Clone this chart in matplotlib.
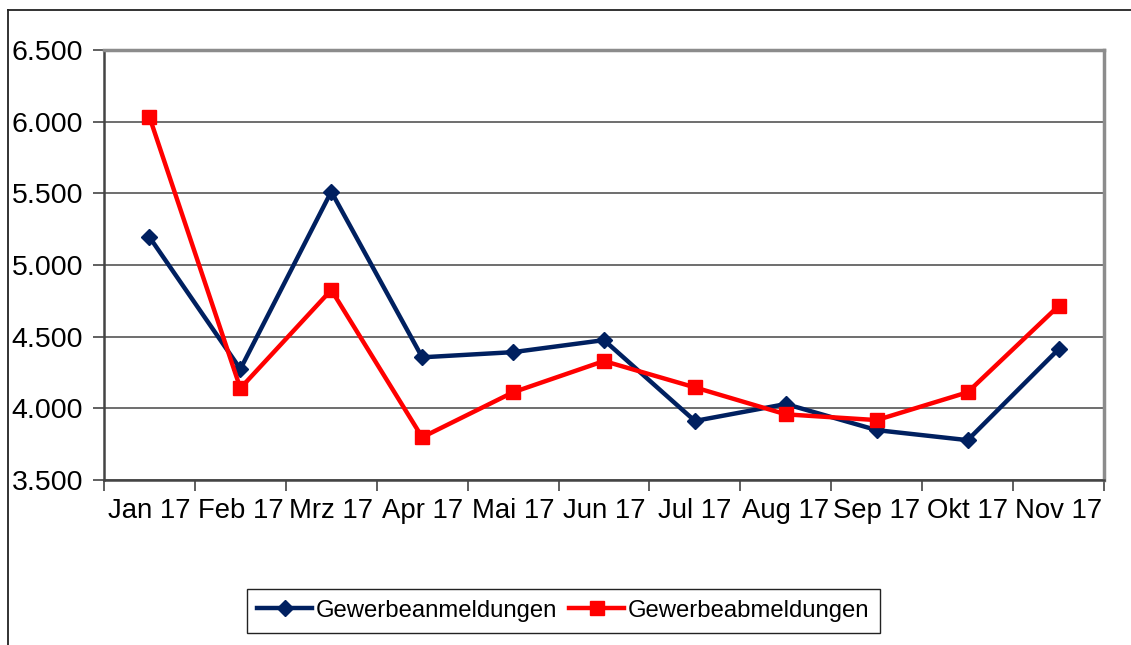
import matplotlib
matplotlib.use("Agg")
import matplotlib.pyplot as plt
from matplotlib.lines import Line2D
from matplotlib.ticker import FuncFormatter

plt.rcParams['font.family'] = ['Liberation Sans', 'DejaVu Sans']

monate = ['Jan 17', 'Feb 17', 'Mrz 17', 'Apr 17', 'Mai 17', 'Jun 17',
          'Jul 17', 'Aug 17', 'Sep 17', 'Okt 17', 'Nov 17']
anmeldungen = [5195, 4274, 5512, 4356, 4392, 4476, 3912, 4030, 3848, 3778, 4412]
abmeldungen = [6033, 4140, 4826, 3798, 4112, 4330, 4146, 3958, 3918, 4112, 4714]

BLAU = '#002060'
ROT = '#ff0000'

fig = plt.figure(figsize=(11.31, 6.45), dpi=100)
ax = fig.add_axes([104/1131, 165/645, 1000/1131, 430/645])

x = list(range(len(monate)))
ax.plot(x, anmeldungen, color=BLAU, lw=3.2, marker='D', ms=8.5,
        mec=BLAU, mfc=BLAU, label='Gewerbeanmeldungen', zorder=3)
ax.plot(x, abmeldungen, color=ROT, lw=3.2, marker='s', ms=10,
        mec=ROT, mfc=ROT, label='Gewerbeabmeldungen', zorder=4)

ax.set_xlim(-0.5, len(monate) - 0.5)
ax.set_ylim(3500, 6500)
ax.set_yticks(range(3500, 6501, 500))
ax.yaxis.set_major_formatter(FuncFormatter(lambda v, p: f'{int(v):,}'.replace(',', '.')))
ax.grid(axis='y', color='#555555', lw=1.2, zorder=1)

ax.set_xticks(x)
ax.set_xticklabels(monate)
ax.set_xticks([i - 0.5 for i in range(len(monate) + 1)], minor=True)
ax.tick_params(axis='x', which='major', length=0, pad=13, labelsize=19.8)
ax.tick_params(axis='x', which='minor', length=8, width=1.2, color='#444444')
ax.tick_params(axis='y', length=8, width=1.2, color='#444444', pad=7, labelsize=20.5)

for s in ['left', 'bottom']:
    ax.spines[s].set_color('#444444')
    ax.spines[s].set_linewidth(1.8)
for s in ['right', 'top']:
    ax.spines[s].set_color('#8c8c8c')
    ax.spines[s].set_linewidth(2.5)

# Rahmen um das Diagramm
fig.add_artist(Line2D([8/1131, 8/1131], [0, 1 - 10/645], transform=fig.transFigure,
                      color='#222222', lw=1.3))
fig.add_artist(Line2D([8/1131, 1], [1 - 10/645, 1 - 10/645], transform=fig.transFigure,
                      color='#222222', lw=1.3))

leg = fig.legend(loc='center', bbox_to_anchor=(0.498, 0.053), ncol=2, fontsize=17.2,
                 fancybox=False, edgecolor='#222222', framealpha=1, handlelength=2.3,
                 handletextpad=0.15, columnspacing=0.5, borderpad=0.45, borderaxespad=0)
leg.get_frame().set_linewidth(1.0)

fig.savefig('out.png', dpi=100)
